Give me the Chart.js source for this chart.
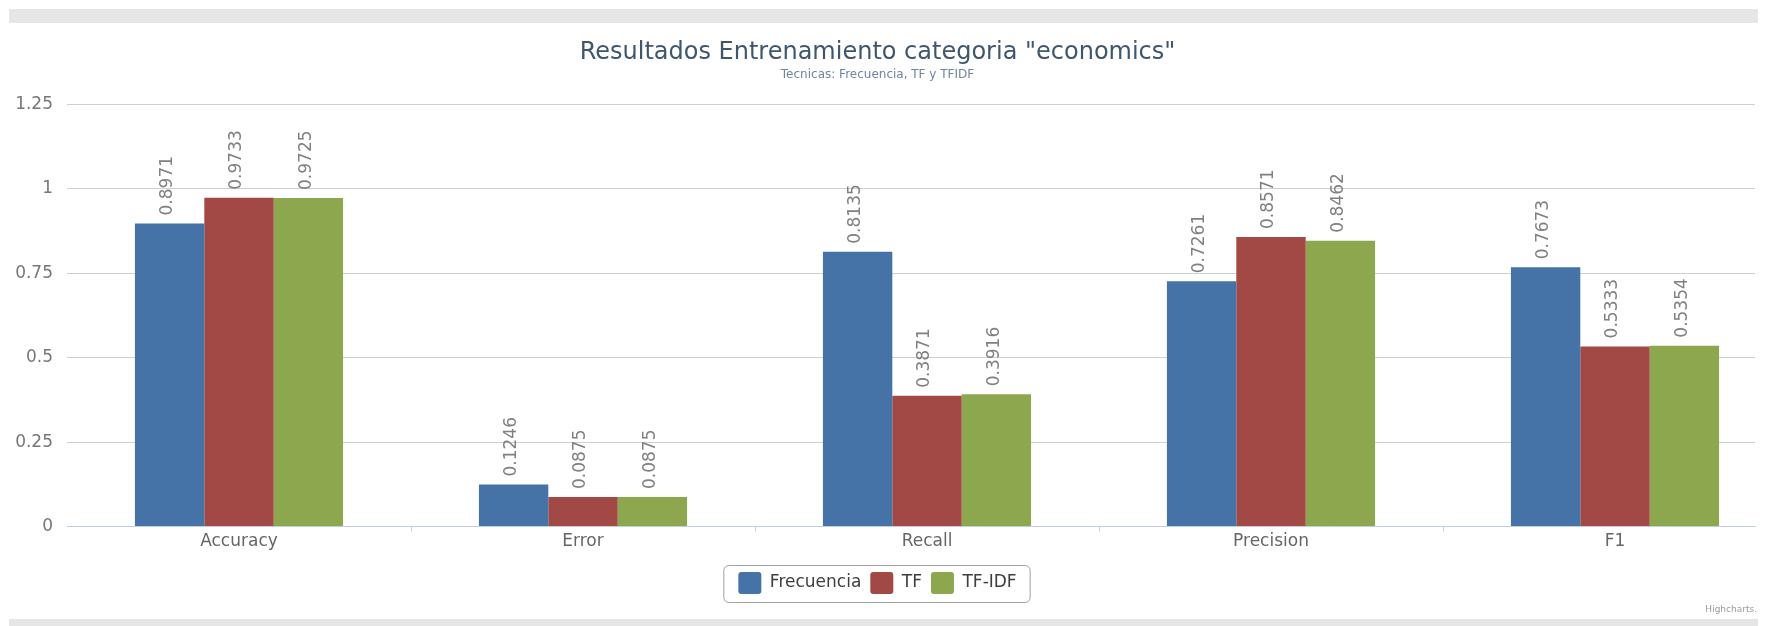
<!DOCTYPE html>
<html>
<head>
<meta charset="utf-8">
<title>Resultados Entrenamiento</title>
<script src="https://cdn.jsdelivr.net/npm/chart.js@4.4.1/dist/chart.umd.min.js"></script>
<style>
	html, body { margin: 0; padding: 0; background: #fff; overflow: hidden; }
	#wrap { position: relative; width: 1770px; height: 626px; }
	.band { position: absolute; left: 9px; width: 1749px; background: #e6e6e6; }
	#chart { position: absolute; left: 0; top: 0; }
</style>
</head>
<body>
<div id="wrap">
	<div class="band" style="top:9px;height:14px"></div>
	<div class="band" style="top:619px;height:7px"></div>
	<canvas id="chart" width="1770" height="626"></canvas>
</div>
<script>
	var categories = ['Accuracy', 'Error', 'Recall', 'Precision', 'F1'];
	var frecuencia = [0.8971, 0.1246, 0.8135, 0.7261, 0.7673];
	var tf = [0.9733, 0.0875, 0.3871, 0.8571, 0.5333];
	var tfidf = [0.9725, 0.0875, 0.3916, 0.8462, 0.5354];
	var yTicks = [0, 0.25, 0.5, 0.75, 1, 1.25];

	var FONT = '"DejaVu Sans", Verdana, sans-serif';

	function toPoints(values) {
		return values.map(function(v, i) { return { x: i, y: v }; });
	}

	// value labels standing vertically on top of each bar
	var barLabels = {
		id: 'barLabels',
		afterDatasetsDraw: function(chart) {
			var ctx = chart.ctx;
			ctx.save();
			ctx.font = '17px ' + FONT;
			ctx.fillStyle = '#808080';
			ctx.textAlign = 'left';
			ctx.textBaseline = 'middle';
			chart.data.datasets.forEach(function(ds, i) {
				chart.getDatasetMeta(i).data.forEach(function(bar, j) {
					ctx.save();
					ctx.translate(bar.x - 2, bar.y - 8);
					ctx.rotate(-Math.PI / 2);
					ctx.fillText(String(ds.data[j].y), 0, 0);
					ctx.restore();
				});
			});
			ctx.restore();
		}
	};

	// category separators, legend frame and credit line
	var extras = {
		id: 'extras',
		afterDraw: function(chart) {
			var ctx = chart.ctx;
			var x = chart.scales.x;
			var area = chart.chartArea;
			ctx.save();
			ctx.strokeStyle = '#c0d0e0';
			ctx.lineWidth = 1;
			for (var k = 1; k < categories.length; k++) {
				var px = Math.round(x.getPixelForValue(k - 0.5)) + 0.5;
				ctx.beginPath();
				ctx.moveTo(px, area.bottom);
				ctx.lineTo(px, area.bottom + 5);
				ctx.stroke();
			}

			var boxes = chart.legend.legendHitBoxes;
			if (boxes.length) {
				var l = boxes[0].left - 15;
				var r = boxes[boxes.length - 1].left + boxes[boxes.length - 1].width + 13;
				var cy = boxes[0].top + boxes[0].height / 2;
				ctx.strokeStyle = '#a0a0a0';
				ctx.beginPath();
				ctx.roundRect(l + 0.5, Math.round(cy - 18) + 0.5, r - l, 37, 5);
				ctx.stroke();
			}

			ctx.font = '9px ' + FONT;
			ctx.fillStyle = '#9a9a9a';
			ctx.textAlign = 'right';
			ctx.textBaseline = 'middle';
			ctx.fillText('Highcharts.', 1757, 610);
			ctx.restore();
		}
	};

	var myChart = new Chart(document.getElementById('chart'), {
		type: 'bar',
		data: {
			datasets: [
				{ label: 'Frecuencia', data: toPoints(frecuencia), backgroundColor: '#4572a7' },
				{ label: 'TF', data: toPoints(tf), backgroundColor: '#a24845' },
				{ label: 'TF-IDF', data: toPoints(tfidf), backgroundColor: '#8da74e' }
			]
		},
		options: {
			responsive: false,
			animation: false,
			devicePixelRatio: 1,
			layout: { padding: { left: 0, right: 15, top: 0, bottom: 22 } },
			datasets: {
				bar: { categoryPercentage: 0.605, barPercentage: 1, borderWidth: 0 }
			},
			plugins: {
				tooltip: { enabled: false },
				title: {
					display: true,
					text: 'Resultados Entrenamiento categoria "economics"',
					color: '#3e576f',
					font: { family: FONT, size: 24, weight: 'normal' },
					padding: { top: 38, bottom: 0 }
				},
				subtitle: {
					display: true,
					text: 'Tecnicas: Frecuencia, TF y TFIDF',
					color: '#6d869f',
					font: { family: FONT, size: 12 },
					padding: { top: 1, bottom: 22 }
				},
				legend: {
					position: 'bottom',
					labels: {
						color: '#3e3e3e',
						font: { family: FONT, size: 17 },
						boxWidth: 23,
						boxHeight: 22,
						padding: 9,
						useBorderRadius: true,
						borderRadius: 3
					}
				}
			},
			scales: {
				x: {
					type: 'linear',
					offset: false,
					min: -0.5,
					max: 4.407,
					grid: { display: false, drawTicks: false, offset: false },
					border: { display: true, color: '#c0d0e0' },
					afterBuildTicks: function(scale) {
						scale.ticks = categories.map(function(c, i) { return { value: i }; });
					},
					afterFit: function(scale) { scale.height += 6; },
					ticks: {
						autoSkip: false,
						maxRotation: 0,
						padding: 5,
						color: '#666',
						font: { family: FONT, size: 17 },
						callback: function(value) { return categories[value]; }
					}
				},
				y: {
					min: 0,
					max: 1.25,
					afterBuildTicks: function(scale) {
						scale.ticks = yTicks.map(function(v) { return { value: v }; });
					},
					afterFit: function(scale) { scale.width = 67; },
					grid: { color: '#cfcfcf', drawTicks: false },
					border: { display: false },
					ticks: {
						padding: 14,
						color: '#777',
						font: { family: FONT, size: 17 },
						callback: function(value) { return String(value); }
					}
				}
			}
		},
		plugins: [barLabels, extras]
	});
</script>
</body>
</html>
